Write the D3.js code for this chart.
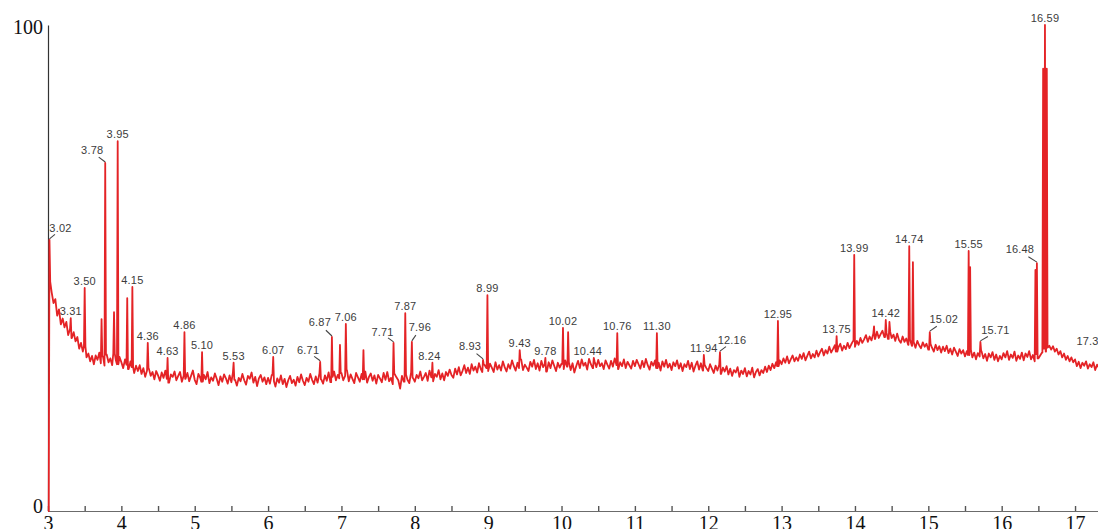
<!DOCTYPE html>
<html>
<head>
<meta charset="utf-8">
<script src="https://cdn.jsdelivr.net/npm/d3@7"></script>
<style>
  body { margin: 0; background: #fff; }
  svg { display: block; }
</style>
</head>
<body>
<svg id="chart" width="1098" height="529"></svg>
<script>
// baseline trace, one sample every 0.025 min starting at 3.000 min (relative abundance, %)
const sampleStart = 3.0;
const sampleStep = 0.025;
const baseline = [
  // 3
  0, 47.2, 45.0, 42.8, 43.6, 40.2, 41.5, 38.4, 39.6, 37.8, 38.9, 36.2, 37.4, 35.6, 36.8, 34.9, 35.8, 33.4, 34.6, 32.8,
  33.9, 31.6, 32.4, 30.8, 31.9, 30.2, 32.0, 31.1, 32.6, 30.4, 31.8, 29.9, 32.2, 30.6, 31.4, 30.0, 32.4, 31.0, 30.2, 31.7,
  // 4
  30.6, 29.4, 31.2, 30.1, 29.2, 30.8, 29.6, 28.4, 29.9, 28.8, 30.0, 28.2, 29.4, 27.6, 28.9, 29.3, 27.8, 28.6, 27.1, 28.8,
  27.9, 26.8, 28.5, 27.4, 28.9, 27.2, 26.4, 28.1, 27.6, 28.7, 26.9, 27.8, 28.6, 26.6, 27.9, 27.2, 28.4, 26.7, 27.8, 28.9,
  // 5
  27.0, 26.1, 28.2, 27.4, 26.6, 28.0, 27.1, 28.6, 26.3, 27.5, 26.8, 28.3, 27.2, 25.9, 27.7, 26.6, 28.1, 27.3, 26.2, 27.9,
  26.5, 28.4, 27.0, 25.8, 27.4, 26.7, 28.2, 26.9, 26.0, 27.8, 27.2, 28.5, 26.4, 27.6, 25.7, 27.3, 28.0, 26.6, 27.5, 26.1,
  // 6
  27.4, 26.2, 28.0, 26.7, 25.6, 27.3, 26.4, 27.9, 26.1, 27.2, 25.5, 26.9, 27.8, 26.3, 27.0, 25.8, 27.6, 26.5, 28.1, 26.8,
  25.9, 27.4, 26.6, 28.2, 27.0, 26.1, 27.7, 26.4, 28.3, 27.1, 26.2, 27.9, 26.8, 28.5, 26.5, 27.6, 28.7, 26.9, 28.0, 27.3,
  // 7
  28.4, 26.9, 27.8, 29.0, 26.7, 28.1, 27.2, 26.3, 28.4, 27.5, 26.6, 28.2, 27.1, 28.7, 26.4, 27.6, 28.3, 26.8, 27.9, 26.2,
  28.0, 27.3, 26.5, 28.4, 27.0, 28.6, 26.7, 27.4, 26.1, 28.2, 27.5, 26.9, 25.2, 27.8, 26.6, 28.1, 27.0, 26.3, 28.5, 27.4,
  // 8
  26.6, 28.0, 27.3, 28.7, 26.9, 27.6, 28.4, 26.8, 28.9, 27.5, 26.7, 28.2, 27.6, 29.0, 27.1, 28.3, 26.9, 28.6, 27.8, 29.1,
  28.0, 27.4, 29.3, 28.1, 29.6, 27.9, 28.8, 30.0, 28.4, 29.5, 28.2, 30.2, 28.9, 29.7, 28.5, 30.4, 29.2, 28.6, 30.1, 29.4,
  // 9
  28.8, 30.3, 29.5, 28.6, 30.6, 29.1, 30.0, 28.9, 30.8, 29.6, 28.7, 30.2, 29.3, 31.0, 29.8, 28.9, 30.5, 29.4, 31.2, 29.0,
  30.1, 29.5, 28.8, 30.7, 29.7, 31.1, 29.2, 30.4, 28.9, 30.9, 29.6, 30.2, 28.7, 30.6, 29.4, 31.0, 29.9, 28.8, 30.5, 29.5,
  // 10
  30.3, 29.2, 31.0, 29.7, 30.6, 29.0, 30.4, 28.5, 29.8, 30.9, 29.4, 31.2, 29.9, 30.5, 29.1, 31.3, 30.2, 29.4, 30.8, 29.6,
  31.1, 29.8, 30.4, 29.2, 31.0, 30.1, 29.3, 30.9, 29.7, 31.4, 30.0, 29.2, 30.6, 29.8, 31.2, 29.4, 30.7, 30.0, 29.3, 30.9,
  // 11
  29.8, 31.1, 30.2, 29.3, 30.9, 29.6, 31.3, 30.0, 29.1, 30.7, 29.9, 31.0, 29.4, 30.5, 28.9, 30.8, 29.7, 31.1, 29.5, 30.3,
  29.0, 30.6, 29.8, 31.0, 29.3, 30.4, 28.8, 30.2, 29.6, 30.9, 29.2, 30.5, 28.7, 29.9, 30.8, 29.1, 30.4, 28.9, 30.1, 29.4,
  // 12
  28.8, 30.2, 29.3, 28.4, 29.9, 28.9, 30.1, 28.2, 29.5, 28.7, 29.8, 28.1, 29.3, 27.8, 29.0, 28.5, 29.6, 27.6, 28.9, 28.2,
  29.4, 27.7, 28.8, 28.1, 29.5, 27.5, 28.6, 29.2, 27.9, 29.0, 28.4, 29.7, 28.6, 29.9, 29.0, 30.3, 29.4, 30.6, 29.8, 31.0,
  // 13
  30.2, 31.4, 30.5, 31.8, 30.4, 31.2, 32.0, 30.8, 31.6, 30.9, 32.2, 31.3, 32.5, 31.0, 31.9, 32.8, 31.4, 32.3, 31.6, 33.0,
  31.8, 32.7, 33.4, 32.0, 33.1, 32.4, 33.8, 32.6, 33.3, 34.1, 32.8, 33.7, 34.4, 33.0, 34.0, 33.3, 34.6, 33.5, 34.3, 35.0,
  // 14
  33.8, 35.0, 34.2, 35.6, 34.6, 35.3, 36.2, 34.8, 35.9, 35.1, 36.5, 35.4, 36.9, 35.6, 36.4, 37.1, 35.8, 36.7, 35.4, 36.9,
  35.6, 36.3, 35.0, 36.5, 35.2, 34.6, 35.9, 34.8, 35.5, 34.2, 35.3, 34.0, 34.8, 33.6, 35.0, 34.1, 33.5, 34.7, 33.8, 34.4,
  // 15
  33.2, 34.4, 33.6, 32.8, 34.2, 33.1, 33.9, 32.6, 33.8, 32.9, 34.0, 32.5, 33.4, 32.2, 33.6, 32.8, 31.9, 33.3, 32.4, 33.1,
  31.8, 32.9, 32.1, 33.2, 31.6, 32.6, 31.2, 32.5, 31.8, 32.9, 31.4, 32.3, 30.9, 32.4, 31.6, 32.7, 31.1, 32.2, 30.8, 31.9,
  // 16
  31.2, 32.5, 31.6, 32.9, 31.1, 32.2, 31.5, 32.8, 30.9, 32.0, 31.3, 32.6, 31.0, 32.4, 31.7, 32.9, 31.2, 32.1, 30.8, 32.3,
  31.4, 32.0, 32.6, 33.4, 32.8, 33.6, 34.0, 33.2, 33.9, 32.8, 33.4, 32.2, 32.9, 31.6, 32.4, 31.1, 31.9, 30.8, 31.6, 30.6,
  // 17
  31.2, 29.8, 30.7, 29.4, 30.5, 29.9, 30.8, 29.3, 30.2, 29.6, 30.6, 29.0, 30.1, 29.5, 30.4, 28.9, 29.8, 30.3, 29.2, 29.9,
  29.4
];

// peaks: retention time (min), apex height (%), label ("" = unlabelled)
const peakTimes = [3.02, 3.31, 3.50, 3.73, 3.78, 3.90, 3.95, 4.08, 4.15, 4.36, 4.63, 4.86, 5.10, 5.53, 6.07,
  6.71, 6.87, 6.98, 7.06, 7.30, 7.71, 7.87, 7.96, 8.24, 8.93, 8.99, 9.43, 9.78, 10.02, 10.09, 10.44, 10.76,
  11.30, 11.94, 12.16, 12.95, 13.75, 13.99, 14.26, 14.42, 14.47, 14.74, 14.79, 15.02, 15.55, 15.57, 15.71, 16.46,
  16.48, 16.565, 16.59, 16.615, 17.35];
const peakHeights = [55.8, 39.7, 45.9, 39.5, 71.6, 40.9, 76.1, 43.8, 46.1, 34.6, 31.5, 36.8, 32.7, 30.5, 31.7,
  30.7, 35.8, 34.2, 38.5, 33.1, 34.6, 40.7, 34.8, 30.5, 31.1, 44.4, 33.1, 31.5, 37.7, 36.8, 31.5, 36.6,
  36.6, 32.1, 32.7, 39.1, 36.0, 52.7, 38.0, 39.3, 38.9, 54.5, 51.2, 36.8, 53.5, 50.2, 34.8, 49.6,
  51.0, 91.0, 100, 91.0, 33.5];
const peakLabels = ["3.02", "3.31", "3.50", "", "3.78", "", "3.95", "", "4.15", "4.36", "4.63", "4.86", "5.10", "5.53", "6.07",
  "6.71", "6.87", "", "7.06", "", "7.71", "7.87", "7.96", "8.24", "8.93", "8.99", "9.43", "9.78", "10.02", "", "10.44", "10.76",
  "11.30", "11.94", "12.16", "12.95", "13.75", "13.99", "", "14.42", "", "14.74", "", "15.02", "15.55", "", "15.71", "",
  "16.48", "", "16.59", "", "17.35"];

const xTickLabels = [3, 4, 5, 6, 7, 8, 9, 10, 11, 12, 13, 14, 15, 16, 17];
const yTickLabels = [0, 100];

// ---------------------------------------------------------------
const svg = d3.select('#chart');
const halfWidth = 0.01; // half width of a peak at its base, min

const x = d3.scaleLinear().domain([3, 17.5]).range([48, 48 + 14.5 * 73.36]);
const y = d3.scaleLinear().domain([0, 100]).range([511, 25]);

const times = baseline.map((_, i) => +(sampleStart + i * sampleStep).toFixed(3));
const nearestSample = t => baseline[Math.max(0, Math.min(baseline.length - 1, Math.round((t - sampleStart) / sampleStep)))];

let points = baseline
  .map((v, i) => [times[i], v])
  .filter(p => !peakTimes.some(t => Math.abs(p[0] - t) < halfWidth * 0.9));
peakTimes.forEach((t, i) => {
  points.push([t - halfWidth, nearestSample(t - halfWidth)]);
  points.push([t, peakHeights[i]]);
  points.push([t + halfWidth, nearestSample(t + halfWidth)]);
});
points.sort((a, b) => a[0] - b[0]);

// axes
const tickAxis = svg.append('g')
  .attr('transform', `translate(0,${y(0)})`)
  .call(d3.axisBottom(x).tickValues(d3.range(3, 17.51, 0.5)).tickSize(-5).tickFormat(''));
tickAxis.select('.domain').attr('stroke', '#6b6b6b');
tickAxis.selectAll('.tick line').attr('stroke', '#555').attr('stroke-width', 1.4);

const labelAxis = svg.append('g')
  .attr('transform', `translate(0,${y(0)})`)
  .call(d3.axisBottom(x).tickValues(xTickLabels).tickSize(0).tickPadding(5).tickFormat(d3.format('d')));
labelAxis.select('.domain').remove();
labelAxis.selectAll('text')
  .attr('fill', '#111')
  .style('font-family', '"Liberation Serif", "Times New Roman", serif')
  .style('font-size', '20px');

const yAxis = svg.append('g')
  .attr('transform', `translate(${x(3)},0)`)
  .call(d3.axisLeft(y).tickValues(yTickLabels).tickSize(0).tickPadding(5));
yAxis.select('.domain').attr('stroke', '#333').attr('stroke-width', 1.2);
yAxis.selectAll('text')
  .attr('fill', '#111')
  .attr('dy', d => d === 100 ? '0.4em' : '0.05em')
  .style('font-family', '"Liberation Serif", "Times New Roman", serif')
  .style('font-size', '20px');

// trace
const line = d3.line()
  .x(d => x(d[0]))
  .y(d => y(d[1]));

svg.append('path')
  .datum(points)
  .attr('fill', 'none')
  .attr('stroke', '#e42326')
  .attr('stroke-width', 1.8)
  .attr('stroke-linejoin', 'round')
  .attr('d', line);

// peak labels; some are pushed aside with a short leader line
const leaderOffsets = {
  '3.02': [11, -12], '3.78': [-13, -13], '6.71': [-12, -12], '6.87': [-12, -15],
  '7.71': [-11, -11], '7.96': [8, -15], '8.93': [-13, -14], '12.16': [12, -12],
  '15.02': [14, -13], '15.71': [15, -12], '16.48': [-17, -14]
};
const nudges = { '10.44': [-6, -7], '8.24': [-3, -7], '17.35': [-10, -7] };

const labelled = peakTimes
  .map((t, i) => ({ t, h: peakHeights[i], label: peakLabels[i] }))
  .filter(d => d.label !== '');

const labels = svg.append('g');
labelled.forEach(d => {
  const ax = x(d.t), ay = y(d.h);
  const off = leaderOffsets[d.label] || nudges[d.label] || [0, -7];
  if (leaderOffsets[d.label]) {
    labels.append('line')
      .attr('x1', ax + off[0] * 0.5).attr('y1', ay + off[1] * 0.45)
      .attr('x2', ax).attr('y2', ay - 1)
      .attr('stroke', '#444').attr('stroke-width', 1.1);
  }
  labels.append('text')
    .attr('x', ax + off[0])
    .attr('y', ay + off[1] + 4)
    .attr('text-anchor', 'middle')
    .attr('fill', '#3c3c3c')
    .style('font-family', '"Liberation Sans", Arial, sans-serif')
    .style('font-size', '11px')
    .style('letter-spacing', '0.2px')
    .text(d.label);
});
</script>
</body>
</html>
